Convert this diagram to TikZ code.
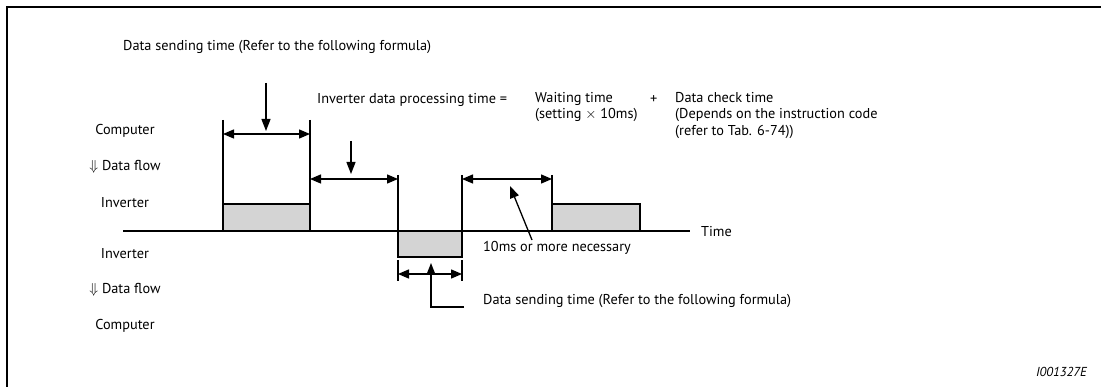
\documentclass[tikz,border=0pt]{standalone}
\usepackage{fontspec}
\setmainfont{PT Sans}
\usetikzlibrary{arrows.meta, positioning}
\begin{document}
\begin{tikzpicture}[
  x=1pt, y=-1pt,
  lbl/.style={anchor=west, inner sep=0pt, font=\fontsize{14.3}{16.5}\selectfont},
  side/.style={inner sep=0pt, font=\fontsize{14.3}{16.5}\selectfont},
  pulse/.style={draw, line width=1.3pt, fill=black!17},
  dim/.style={{Triangle[length=11pt,width=9pt]}-{Triangle[length=11pt,width=9pt]}, line width=1.3pt},
  pointer/.style={-{Triangle[length=12pt,width=9pt]}, line width=1.3pt},
  tick/.style={line width=1.3pt},
]
  \useasboundingbox (0,0) rectangle (1101,387);
  \draw[line width=2.2pt] (7,387) -- (7,7) -- (1101,7);

  \node[lbl] (sendtop) at (123,47) {Data sending time (Refer to the following formula)};
  \node[lbl] (proc) at (317,100) {Inverter data processing time =};
  \node[lbl, align=left, anchor=north west] (wait) at (535,92) {Waiting time\\(setting $\times$ 10ms)};
  \node[lbl] (plus) at (650,100) {+};
  \node[lbl, align=left, anchor=north west] (check) at (675,92) {Data check time\\(Depends on the instruction code\\(refer to Tab. 6-74))};

  \node[side] (comp1) at (125,131) {Computer};
  \node[side] (flow1) at (125,167) {$\Downarrow$ Data flow};
  \node[side] (inv1) at (125,203) {Inverter};
  \node[side] (inv2) at (125,254) {Inverter};
  \node[side] (flow2) at (125,290) {$\Downarrow$ Data flow};
  \node[side] (comp2) at (125,326) {Computer};

  \coordinate (t0) at (123,231);
  \coordinate (tend) at (690,231);
  \draw[tick] (t0) -- (tend);
  \node[lbl] (time) at (701,232) {Time};

  \draw[pulse] (223,231) rectangle (310,204);
  \draw[pulse] (398,231) rectangle (462,257);
  \draw[pulse] (552,231) rectangle (640,204);

  \draw[tick] (223,120) -- (223,204);
  \draw[tick] (310,120) -- (310,204);
  \draw[tick] (398,175) -- (398,231);
  \draw[tick] (462,175) -- (462,231);
  \draw[tick] (552,175) -- (552,204);
  \draw[tick] (398,260) -- (398,281);
  \draw[tick] (462,260) -- (462,281);

  \coordinate (a1) at (223,134);
  \coordinate (b1) at (310,134);
  \coordinate (a2) at (310,179);
  \coordinate (b2) at (398,179);
  \coordinate (a3) at (462,179);
  \coordinate (b3) at (552,179);
  \coordinate (a4) at (398,274);
  \coordinate (b4) at (462,274);
  \draw[dim] (a1) -- (b1);
  \draw[dim] (a2) -- (b2);
  \draw[dim] (a3) -- (b3);
  \draw[dim] (a4) -- (b4);

  \coordinate (p1) at (266,83);
  \coordinate (p2) at (351,141);
  \draw[pointer] (p1) -- (266,131);
  \draw[pointer] (p2) -- (351,174);

  \node[lbl] (gap) at (483,248) {10ms or more necessary};
  \draw[pointer] (532,240) -- (510,186);

  \node[lbl] (sendbot) at (483,301) {Data sending time (Refer to the following formula)};
  \draw[pointer] (sendbot.west) ++(-19,6) -| (431,263);

  \node[anchor=east, inner sep=0pt, font=\fontsize{13}{15}\selectfont\itshape] (code) at (1087,372) {I001327E};
\end{tikzpicture}
\end{document}
